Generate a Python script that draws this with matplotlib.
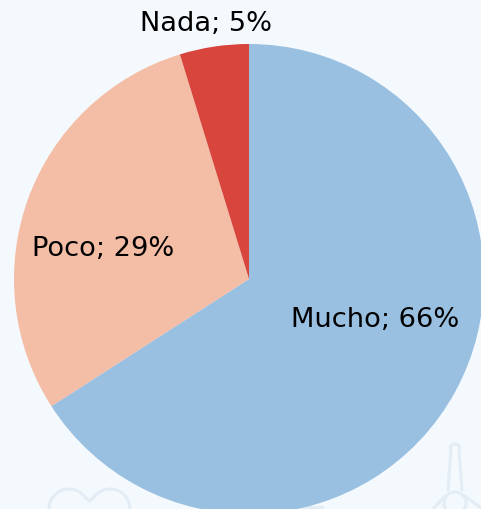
import matplotlib
matplotlib.use("Agg")
import matplotlib.pyplot as plt
from matplotlib.patches import Arc, Circle

labels = ["Mucho; 66%", "Poco; 29%", "Nada; 5%"]
values = [65.9, 29.35, 4.75]
colors = ["#99BFE1", "#F4BDA5", "#D8453C"]
background = "#F4F9FD"
watermark = "#E3EDF6"

plt.rcParams["font.family"] = ["DejaVu Sans"]

fig = plt.figure(figsize=(481.5 / 100, 509.5 / 100), dpi=100, facecolor=background)
ax = fig.add_axes([0, 0, 1, 1])
H = 509


def faint_line(xs, ys):
    ax.plot(xs, [H - y for y in ys], color=watermark, lw=2.2, zorder=0,
            solid_capstyle="round", solid_joinstyle="round")


def faint_arc(x, y, r, t1, t2):
    ax.add_patch(Arc((x, H - y), 2 * r, 2 * r, theta1=t1, theta2=t2,
                     color=watermark, lw=2.2, zorder=0))


# faint background drawings, behind the pie
faint_arc(69, 509, 20, 35, 180)
faint_arc(110, 509, 20, 0, 145)
faint_line([85, 89.5, 94], [497.5, 501, 497.5])

faint_line([448, 451], [490, 449])
faint_line([462, 459], [490, 449])
faint_arc(455, 449, 5, 0, 180)
ax.add_patch(Circle((455, H - 503), 11, fill=False, ec=watermark, lw=2.2, zorder=0))
faint_line([445, 433], [496, 509])
faint_line([465, 481], [496, 508])
faint_line([300, 322], [507, 507])

# center and radius measured on the reference, in pixels
wedges, _ = ax.pie(values, colors=colors, startangle=90, counterclock=False,
                   center=(249, H - 279), radius=235, frame=False)
ax.set_xlim(0, 481.5)
ax.set_ylim(H + 0.5 - 509.5, H + 0.5 - 0)
ax.set_aspect("equal")
ax.axis("off")

ax.text(375, H - 320, labels[0], ha="center", va="center", fontsize=19.6, color="black")
ax.text(103.5, H - 248, labels[1], ha="center", va="center", fontsize=19.6, color="black")
ax.text(206, H - 23, labels[2], ha="center", va="center", fontsize=19.6, color="black")

fig.savefig("out.png", dpi=100, facecolor=background)
